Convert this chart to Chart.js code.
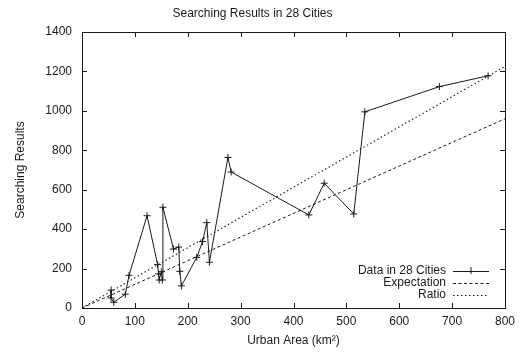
<!DOCTYPE html>
<html>
<head>
<meta charset="utf-8">
<script src="https://cdn.jsdelivr.net/npm/chart.js@4"></script>
<style>
html,body{margin:0;padding:0;background:#fff;}
#wrap{width:525px;height:352px;}
</style>
</head>
<body>
<div id="wrap"><canvas id="c" width="525" height="352"></canvas></div>
<script>
const chartTitle = "Searching Results in 28 Cities";
const xTitle = "Urban Area (km\u00B2)";
const yTitle = "Searching Results";
const seriesNames = ["Data in 28 Cities", "Expectation", "Ratio"];
const urbanArea = [55,55,60,82,89,123,143,145,146,150,152,153,173,183,185,188,217,228,236,241,276,282,429,458,514,535,676,768];
const searchResults = [91,51,29,70,166,468,220,173,142,184,142,511,299,309,186,112,257,337,433,232,764,690,472,633,477,995,1123,1178];
const lineX = [0, 800];
const expectationY = [0, 960];
const ratioY = [0, 1225];
const xTicks = [0,100,200,300,400,500,600,700,800];
const yTicks = [0,200,400,600,800,1000,1200,1400];

const FONT = "'Liberation Sans', Arial, Helvetica, sans-serif";
const INK = '#1a1a1a';

const toPts = (xs, ys) => xs.map((x, i) => ({x: x, y: ys[i]}));

const framePlugin = {
  id: 'frame',
  afterDraw(chart) {
    const ctx = chart.ctx, a = chart.chartArea;
    const xs = chart.scales.x, ys = chart.scales.y;
    ctx.save();
    ctx.strokeStyle = INK;
    ctx.lineWidth = 1;
    ctx.strokeRect(Math.round(a.left) + 0.5, Math.round(a.top) + 0.5, Math.round(a.right - a.left), Math.round(a.bottom - a.top));
    const tl = 5;
    ctx.beginPath();
    xTicks.forEach(v => {
      const px = Math.round(xs.getPixelForValue(v)) + 0.5;
      ctx.moveTo(px, a.bottom); ctx.lineTo(px, a.bottom - tl);
      ctx.moveTo(px, a.top); ctx.lineTo(px, a.top + tl);
    });
    yTicks.forEach(v => {
      const py = Math.round(ys.getPixelForValue(v)) + 0.5;
      ctx.moveTo(a.left, py); ctx.lineTo(a.left + tl, py);
      ctx.moveTo(a.right, py); ctx.lineTo(a.right - tl, py);
    });
    ctx.stroke();

    // gnuplot-style legend: text right aligned, sample to the right
    ctx.font = "12px " + FONT;
    ctx.textAlign = 'right';
    ctx.textBaseline = 'middle';
    const textRight = a.right - 59;
    const s0 = a.right - 52, s1 = a.right - 16;
    chart.data.datasets.forEach((ds, i) => {
      const y = a.bottom - 37.5 + i * 12.3;
      ctx.fillStyle = INK;
      ctx.fillText(ds.label, textRight, y);
      ctx.save();
      ctx.strokeStyle = ds.borderColor;
      ctx.lineWidth = ds.borderWidth;
      ctx.setLineDash(ds.borderDash || []);
      ctx.beginPath();
      ctx.moveTo(s0, Math.round(y) + 0.5); ctx.lineTo(s1, Math.round(y) + 0.5);
      ctx.stroke();
      ctx.setLineDash([]);
      if (ds.pointRadius > 0) {
        const cx = (s0 + s1) / 2, r = ds.pointRadius;
        ctx.beginPath();
        ctx.moveTo(cx, y - r); ctx.lineTo(cx, y + r);
        ctx.stroke();
      }
      ctx.restore();
    });
    ctx.restore();
  }
};

new Chart(document.getElementById('c'), {
  type: 'scatter',
  data: {
    datasets: [
      {
        label: seriesNames[0],
        data: toPts(urbanArea, searchResults),
        showLine: true,
        borderColor: INK,
        backgroundColor: INK,
        borderWidth: 1,
        pointStyle: 'cross',
        pointRadius: 3.5,
        pointBorderWidth: 1,
        pointBorderColor: INK
      },
      {
        label: seriesNames[1],
        data: toPts(lineX, expectationY),
        showLine: true,
        borderColor: INK,
        borderWidth: 1,
        borderDash: [3, 2.5],
        pointRadius: 0
      },
      {
        label: seriesNames[2],
        data: toPts(lineX, ratioY),
        showLine: true,
        borderColor: INK,
        borderWidth: 1.1,
        borderDash: [1.5, 2.5],
        pointRadius: 0
      }
    ]
  },
  options: {
    responsive: false,
    animation: false,
    devicePixelRatio: 1,
    layout: { padding: { left: 0, right: 20, top: 0, bottom: 0 } },
    plugins: {
      legend: { display: false },
      tooltip: { enabled: false },
      title: {
        display: true,
        text: chartTitle,
        color: INK,
        font: { family: FONT, size: 12, weight: 'normal', lineHeight: 1.2 },
        padding: { top: 6, bottom: 11.6 }
      }
    },
    scales: {
      x: {
        type: 'linear',
        min: 0, max: 800,
        grid: { display: false, drawTicks: false },
        border: { display: false },
        afterBuildTicks(s) { s.ticks = xTicks.map(v => ({value: v})); },
        ticks: { color: INK, font: { family: FONT, size: 12 }, padding: 6, maxRotation: 0, autoSkip: false, callback: v => String(v) },
        title: { display: true, text: xTitle, color: INK, font: { family: FONT, size: 12 }, padding: { top: 0, bottom: 4 } },
        afterFit(s) { s.height = 44; s.paddingLeft = 0; s.paddingRight = 0; }
      },
      y: {
        type: 'linear',
        min: 0, max: 1400,
        grid: { display: false, drawTicks: false },
        border: { display: false },
        afterBuildTicks(s) { s.ticks = yTicks.map(v => ({value: v})); },
        ticks: { color: INK, font: { family: FONT, size: 12 }, padding: 10, autoSkip: false, callback: v => String(v) },
        title: { display: true, text: yTitle, color: INK, font: { family: FONT, size: 12 }, padding: { top: 13, bottom: 0 } },
        afterFit(s) { s.width = 82; s.paddingTop = 0; s.paddingBottom = 0; }
      }
    }
  },
  plugins: [framePlugin]
});
</script>
</body>
</html>
